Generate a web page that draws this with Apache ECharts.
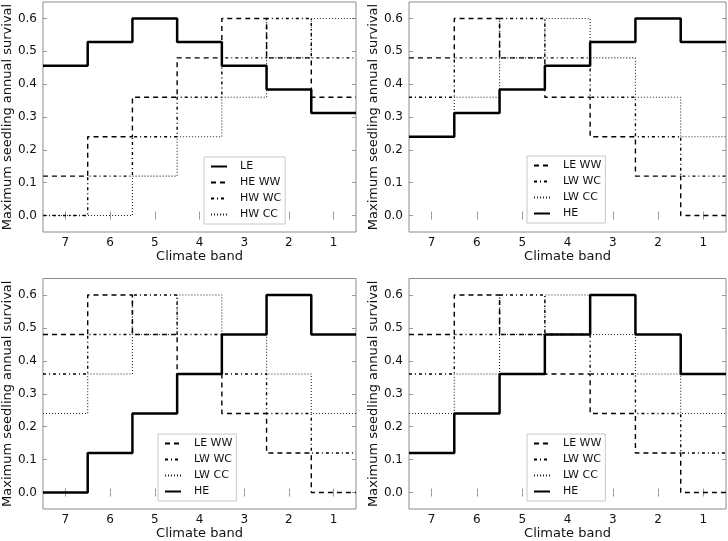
<!DOCTYPE html>
<html>
<head>
<meta charset="utf-8">
<script src="https://cdn.jsdelivr.net/npm/echarts@6/dist/echarts.min.js"></script>
<style>html,body{margin:0;padding:0;background:#fff}#c{width:728px;height:541px}</style>
</head>
<body>
<div id="c"></div>
<script>
// ---- data ----
var bands = [7, 6, 5, 4, 3, 2, 1];
var yTicks = [0, 0.1, 0.2, 0.3, 0.4, 0.5, 0.6];
// panel 1
var p1_LE    = [0.456, 0.528, 0.6, 0.528, 0.456, 0.384, 0.312];
var p1_HE_WW = [0.12, 0.24, 0.36, 0.48, 0.6, 0.48, 0.36];
var p1_HW_WC = [0, 0.12, 0.24, 0.36, 0.48, 0.6, 0.48];
var p1_HW_CC = [0, 0, 0.12, 0.24, 0.36, 0.48, 0.6];
// panels 2-4 shared
var LE_WW = [0.48, 0.6, 0.48, 0.36, 0.24, 0.12, 0];
var LW_WC = [0.36, 0.48, 0.6, 0.48, 0.36, 0.24, 0.12];
var LW_CC = [0.24, 0.36, 0.48, 0.6, 0.48, 0.36, 0.24];
var p2_HE = [0.24, 0.312, 0.384, 0.456, 0.528, 0.6, 0.528];
var p3_HE = [0, 0.12, 0.24, 0.36, 0.48, 0.6, 0.48];
var p4_HE = [0.12, 0.24, 0.36, 0.48, 0.6, 0.48, 0.36];

var FONT = 'DejaVu Sans';
var styles = {
  solid:  {color: '#000', width: 2.5, type: 'solid'},
  dashed: {color: '#000', width: 1.4, type: [5, 4]},
  dashdot:{color: '#000', width: 1.4, type: [3, 3, 1, 3]},
  dotted: {color: '#222', width: 1.1, type: [1, 2]}
};

function steps(vals) {
  var d = [];
  for (var i = 0; i < bands.length; i++) {
    d.push([bands[i] + 0.5, vals[i]]);
    d.push([bands[i] - 0.5, vals[i]]);
  }
  return d;
}

var grids = [
  {left: 39, top: 2, width: 317, height: 230},
  {left: 409, top: 2, width: 317, height: 230},
  {left: 39, top: 278.5, width: 317, height: 231},
  {left: 409, top: 278.5, width: 317, height: 231}
];

var panels = [
  [['LE', p1_LE, 'solid'], ['HE WW', p1_HE_WW, 'dashed'], ['HW WC', p1_HW_WC, 'dashdot'], ['HW CC', p1_HW_CC, 'dotted']],
  [['LE WW', LE_WW, 'dashed'], ['LW WC', LW_WC, 'dashdot'], ['LW CC', LW_CC, 'dotted'], ['HE', p2_HE, 'solid']],
  [['LE WW', LE_WW, 'dashed'], ['LW WC', LW_WC, 'dashdot'], ['LW CC', LW_CC, 'dotted'], ['HE', p3_HE, 'solid']],
  [['LE WW', LE_WW, 'dashed'], ['LW WC', LW_WC, 'dashdot'], ['LW CC', LW_CC, 'dotted'], ['HE', p4_HE, 'solid']]
];
var legendPos = [[204, 157], [527, 156], [158, 434], [527, 434]];
var legendPadR = [4, 4, 4, 4];

var option = {
  animation: false,
  backgroundColor: '#fff',
  textStyle: {fontFamily: FONT},
  grid: [], xAxis: [], yAxis: [], series: [], legend: []
};

var tickStyle = {show: true, inside: true, length: 4, lineStyle: {color: '#999', width: 1}};

grids.forEach(function (g, gi) {
  option.grid.push(Object.assign({show: true, borderColor: '#8c8c8c', borderWidth: 1}, g));
  option.xAxis.push({
    type: 'value', gridIndex: gi, min: 0.5, max: 7.5, inverse: true, position: 'bottom',
    name: 'Climate band', nameLocation: 'middle', nameGap: 18,
    nameTextStyle: {fontSize: 13, color: '#111', fontFamily: FONT},
    axisLine: {show: false}, splitLine: {show: false},
    axisTick: Object.assign({customValues: bands}, tickStyle),
    axisLabel: {customValues: bands, fontSize: 12, color: '#111', margin: 5, fontFamily: FONT}
  });
  option.xAxis.push({
    type: 'value', gridIndex: gi, min: 0.5, max: 7.5, inverse: true, position: 'top',
    axisLine: {show: false}, splitLine: {show: false},
    axisTick: Object.assign({customValues: bands}, tickStyle),
    axisLabel: {show: false}
  });
  option.yAxis.push({
    type: 'value', gridIndex: gi, min: -0.05, max: 0.65, position: 'left',
    name: 'Maximum seedling annual survival', nameLocation: 'middle', nameGap: 25,
    nameTextStyle: {fontSize: 13, color: '#111', fontFamily: FONT},
    axisLine: {show: false}, splitLine: {show: false},
    axisTick: Object.assign({customValues: yTicks}, tickStyle),
    axisLabel: {customValues: yTicks, fontSize: 12, color: '#111', margin: 6, fontFamily: FONT,
      formatter: function (v) { return v.toFixed(1); }}
  });
  option.yAxis.push({
    type: 'value', gridIndex: gi, min: -0.05, max: 0.65, position: 'right',
    axisLine: {show: false}, splitLine: {show: false},
    axisTick: Object.assign({customValues: yTicks}, tickStyle),
    axisLabel: {show: false}
  });

  var names = [];
  panels[gi].forEach(function (s) {
    var st = styles[s[2]];
    names.push(s[0]);
    option.series.push({
      type: 'line', name: s[0], xAxisIndex: gi * 2, yAxisIndex: gi * 2,
      data: steps(s[1]), symbol: 'none', showSymbol: false,
      lineStyle: {color: st.color, width: st.width, type: st.type},
      itemStyle: {color: st.color},
      z: s[2] === 'solid' ? 3 : 2
    });
  });
  option.legend.push({
    orient: 'vertical', left: legendPos[gi][0], top: legendPos[gi][1],
    data: names, itemWidth: 16, itemHeight: 11, itemGap: 5,
    padding: [4, legendPadR[gi], 4, 6], borderColor: '#c8c8c8', borderWidth: 1, backgroundColor: '#fff',
    itemStyle: {opacity: 0},
    textStyle: {fontSize: 11, color: '#111', fontFamily: FONT, padding: [0, 0, 0, 8]},
    selectedMode: false
  });
});

var chart = echarts.init(document.getElementById('c'), null, {renderer: 'canvas'});
chart.setOption(option);
</script>
</body>
</html>
